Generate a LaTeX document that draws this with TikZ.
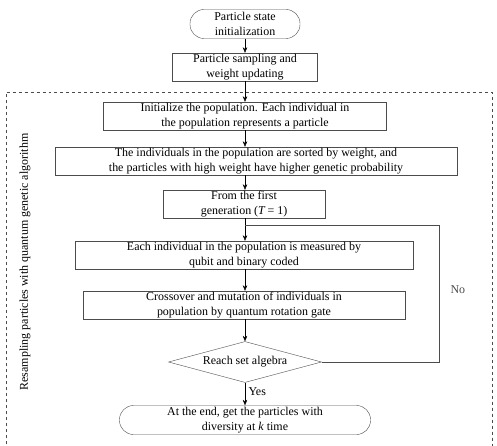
\documentclass[tikz,border=0pt]{standalone}
\usepackage{fontspec}
\setmainfont{Liberation Serif}
\usetikzlibrary{shapes.geometric, arrows.meta, positioning, calc}

\begin{document}
\begin{tikzpicture}[
        x=1bp, y=-1bp,
        font=\fontsize{12}{14.5}\selectfont,
        box/.style={rectangle, draw=black!70, thin, inner sep=1pt, minimum height=28bp, align=center},
        term/.style={rectangle, draw=black!70, thin, rounded corners=14bp, inner sep=1pt, minimum height=29bp, align=center},
        decision/.style={diamond, draw=black!70, thin, aspect=3.7, inner sep=0pt, minimum width=153bp, minimum height=41bp},
        arrow/.style={-{Stealth[length=5.5bp, width=4.5bp]}, thin, draw=black}
    ]
    \useasboundingbox (0,0) rectangle (497,446);

    % outer dashed frame, open at the bottom
    \draw [dashed, black!70] (6,450) -- (6,92) -- (492,92) -- (492,450);
    \node (frame) [rotate=90] at (25,262) {Resampling particles with quantum genetic algorithm};

    \node (start) [term, minimum width=110bp] at (245,24) {Particle state\\initialization};
    \node (sample) [box, minimum width=145bp] at (245,67) {Particle sampling and\\weight updating};
    \node (popinit) [box, minimum width=283bp] at (245,116) {Initialize the population. Each individual in\\the population represents a particle};
    \node (sort) [box, minimum width=402bp] at (256,161) {The individuals in the population are sorted by weight, and\\the particles with high weight have higher genetic probability};
    \node (first) [box, minimum width=162bp] at (244,204) {From the first\\generation (\textit{T}\,= 1)};
    \node (measure) [box, minimum width=338bp] at (244,255) {Each individual in the population is measured by\\qubit and binary coded};
    \node (cross) [box, minimum width=322bp] at (244,305) {Crossover and mutation of individuals in\\population by quantum rotation gate};
    \node (reach) [decision] at (245,362) {Reach set algebra};
    \node (finish) [term, minimum width=251bp] at (245,420) {At the end, get the particles with\\diversity at \textit{k} time};

    \coordinate (loop) at (245,225);

    \draw [arrow] (start) -- (sample);
    \draw [arrow] (sample.south) -- (sample.south |- popinit.north);
    \draw [arrow] (popinit.south) -- (popinit.south |- sort.north);
    \draw [arrow] (sort.south -| popinit.south) -- (first.north -| popinit.south);
    \draw [arrow] (first.south -| popinit.south) -- (measure.north -| popinit.south);
    \draw [arrow] (measure.south -| popinit.south) -- (cross.north -| popinit.south);
    \draw [arrow] (cross.south -| popinit.south) -- (reach.north);
    \draw [arrow] (reach) -- node[right, pos=0.4] {Yes} (finish);
    \draw [thin, black!70] (reach.east) -- (439,362) -- node[right, pos=0.53, xshift=8bp] {No} (439,225) -- (loop);

\end{tikzpicture}
\end{document}
